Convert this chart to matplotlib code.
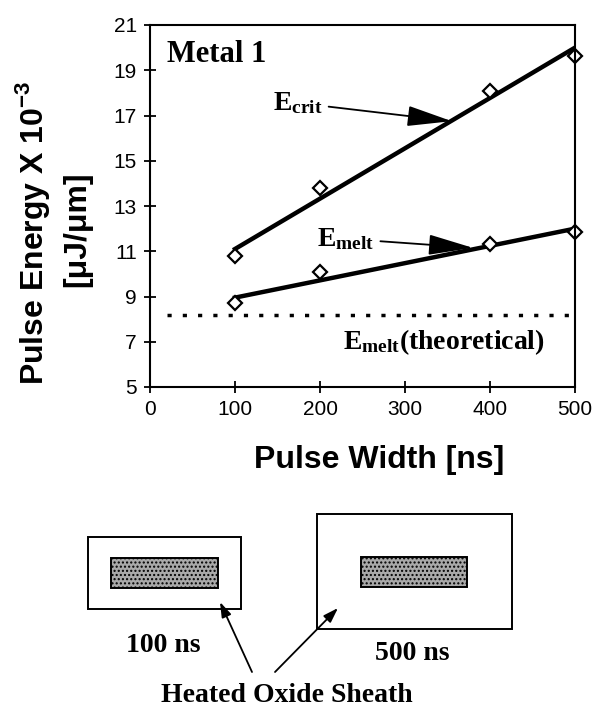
import matplotlib
matplotlib.use('Agg')
import matplotlib.pyplot as plt
from matplotlib.patches import Rectangle

plt.rcParams['font.family'] = 'Liberation Sans'
plt.rcParams['mathtext.fontset'] = 'custom'
plt.rcParams['mathtext.rm'] = 'Liberation Serif:bold'
plt.rcParams['mathtext.bf'] = 'Liberation Serif:bold'
plt.rcParams['mathtext.sf'] = 'Liberation Sans:bold'

# measured points
pulse_width = [100, 200, 400, 500]
e_crit = [10.8, 13.8, 18.1, 19.65]
e_melt = [8.7, 10.1, 11.3, 11.85]
# straight fit lines drawn in the figure
fit_x = [100, 500]
fit_crit = [11.1, 20.0]
fit_melt = [8.95, 12.0]
e_melt_theory = 8.2
theory_x = [20, 500]

xticks = [0, 100, 200, 300, 400, 500]
yticks = [5, 7, 9, 11, 13, 15, 17, 19, 21]

# sketch below the chart, figure pixel coords (x, y, w, h)
sheath_boxes = [(88, 537, 153, 72), (317, 514, 195, 115)]
metal_boxes = [(111, 558, 107, 30), (361, 557, 106, 30)]
box_labels = ['100 ns', '500 ns']
box_label_pos = [(163, 645), (412, 653)]

W, H = 596, 706
fig = plt.figure(figsize=(W / 100, H / 100), dpi=100)
ax = fig.add_axes([150 / W, 1 - 387 / H, 425 / W, 362 / H])

ax.plot(fit_x, fit_crit, '-', color='k', linewidth=3.2)
ax.plot(fit_x, fit_melt, '-', color='k', linewidth=3.2)
ax.plot(pulse_width, e_crit, 'D', mfc='white', mec='k', mew=1.6, ms=7.5, clip_on=False)
ax.plot(pulse_width, e_melt, 'D', mfc='white', mec='k', mew=1.6, ms=7.5, clip_on=False)
ax.plot(theory_x, [e_melt_theory] * 2, ':', color='k', linewidth=2.5, dashes=(1.2, 3.2))

ax.set_xlim(0, 500)
ax.set_ylim(5, 21)
ax.set_xticks(xticks)
ax.set_yticks(yticks)
ax.tick_params(direction='inout', length=9, width=1.3, labelsize=15, pad=5)
for s in ax.spines.values():
    s.set_linewidth(1.5)

serif = dict(family='Liberation Serif', weight='bold')
head = '-|>,head_length=1.4,head_width=0.32'
ax.text(20, 19.7, 'Metal 1', fontsize=22, va='center', ha='left', **serif)
ax.annotate(r'$\mathbf{E_{crit}}$', xy=(355, 16.75), xytext=(145, 17.55),
            fontsize=20, va='center', ha='left', **serif,
            arrowprops=dict(arrowstyle=head, color='k', lw=1.3, shrinkA=2, shrinkB=0))
ax.annotate(r'$\mathbf{E_{melt}}$', xy=(380, 11.15), xytext=(197, 11.55),
            fontsize=20, va='center', ha='left', **serif,
            arrowprops=dict(arrowstyle=head, color='k', lw=1.3, shrinkA=2, shrinkB=0))
ax.text(464, 7.0, r'$\mathbf{E_{melt}}$(theoretical)', fontsize=20,
        va='center', ha='right', **serif)

fig.text(33 / W, 1 - 233 / H, r'Pulse Energy X 10$^{\mathsf{-3}}$', rotation=90,
         fontsize=23, weight='bold', ha='center', va='center')
fig.text(77 / W, 1 - 229 / H, '[\u03bcJ/\u03bcm]', rotation=90,
         fontsize=23, weight='bold', ha='center', va='center')
fig.text(379 / W, 1 - 460 / H, 'Pulse Width [ns]', fontsize=23, weight='bold',
         ha='center', va='center')

# sketch of the heated oxide sheath
sk = fig.add_axes([0, 0, 1, 1], zorder=-1)
sk.set_xlim(0, W)
sk.set_ylim(H, 0)
sk.axis('off')
for (x, y, w, h) in sheath_boxes:
    sk.add_patch(Rectangle((x, y), w, h, fill=False, ec='k', lw=1.4))
for (x, y, w, h) in metal_boxes:
    sk.add_patch(Rectangle((x, y), w, h, fc='#a9a9a9', ec='k', lw=1.4, hatch='....'))
for lab, (x, y) in zip(box_labels, box_label_pos):
    sk.text(x, y, lab, fontsize=20, ha='center', va='center', **serif)
sk.text(287, 695, 'Heated Oxide Sheath', fontsize=20, ha='center', va='center', **serif)
arrow = dict(arrowstyle='-|>,head_length=0.9,head_width=0.3', color='k', lw=1.3,
             shrinkA=0, shrinkB=0)
sk.annotate('', xy=(220, 602), xytext=(252, 672), arrowprops=arrow)
sk.annotate('', xy=(338, 608), xytext=(275, 672), arrowprops=arrow)

fig.savefig('out.png', dpi=100)
